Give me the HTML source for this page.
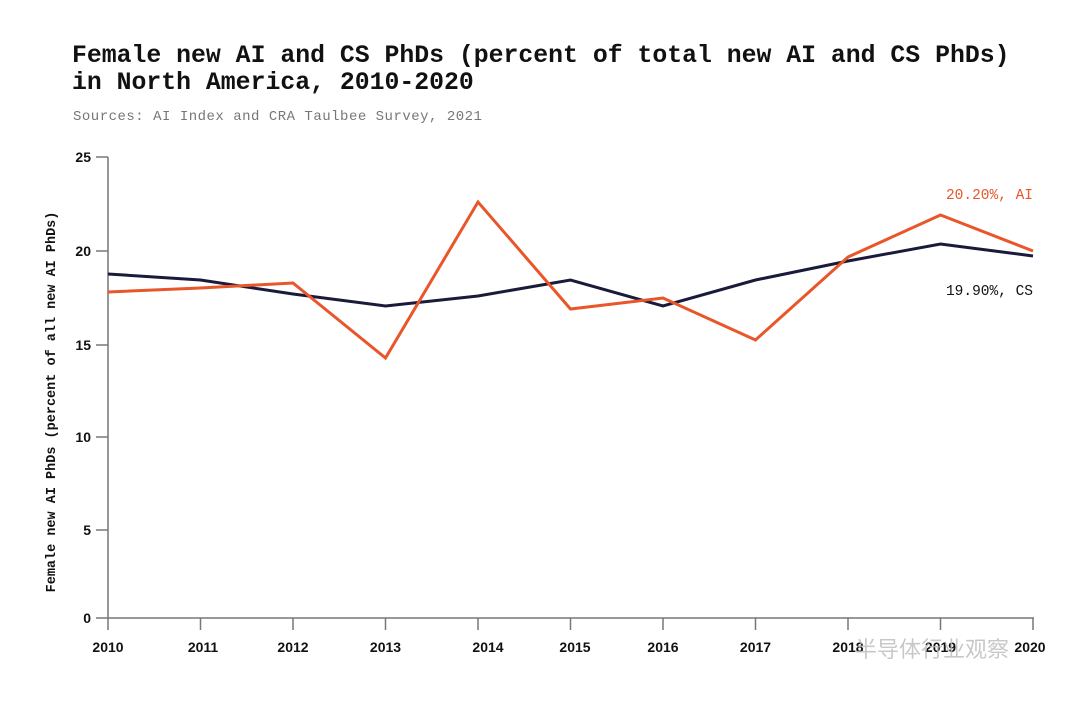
<!DOCTYPE html>
<html><head><meta charset="utf-8"><style>
body{margin:0;background:#fff;width:1080px;height:700px;overflow:hidden}
</style></head><body>
<svg width="1080" height="700" xmlns="http://www.w3.org/2000/svg">
<text x="72" y="62" font-family="Liberation Mono, monospace" font-weight="bold" font-size="24.8" fill="#111">Female new AI and CS PhDs (percent of total new AI and CS PhDs)</text>
<text x="72" y="89" font-family="Liberation Mono, monospace" font-weight="bold" font-size="24.8" fill="#111">in North America, 2010-2020</text>
<text x="73" y="120" font-family="Liberation Mono, monospace" font-size="14" letter-spacing="0.5" fill="#777">Sources: AI Index and CRA Taulbee Survey, 2021</text>
<g stroke="#777" stroke-width="1.5" fill="none">
<line x1="108" y1="157" x2="108" y2="618"/>
<line x1="108" y1="618" x2="1034" y2="618"/>
<line x1="96" y1="157" x2="108" y2="157"/><line x1="96" y1="251" x2="108" y2="251"/><line x1="96" y1="345" x2="108" y2="345"/><line x1="96" y1="437" x2="108" y2="437"/><line x1="96" y1="530" x2="108" y2="530"/><line x1="96" y1="618" x2="108" y2="618"/>
<line x1="108" y1="618" x2="108" y2="630"/><line x1="200.5" y1="618" x2="200.5" y2="630"/><line x1="293" y1="618" x2="293" y2="630"/><line x1="385.5" y1="618" x2="385.5" y2="630"/><line x1="478" y1="618" x2="478" y2="630"/><line x1="570.5" y1="618" x2="570.5" y2="630"/><line x1="663" y1="618" x2="663" y2="630"/><line x1="755.5" y1="618" x2="755.5" y2="630"/><line x1="848" y1="618" x2="848" y2="630"/><line x1="940.5" y1="618" x2="940.5" y2="630"/><line x1="1033" y1="618" x2="1033" y2="630"/>
</g>
<g font-family="Liberation Sans, sans-serif" font-weight="bold" font-size="14" fill="#111" text-anchor="end">
<text x="91" y="162">25</text><text x="91" y="256">20</text><text x="91" y="350">15</text><text x="91" y="442">10</text><text x="91" y="535">5</text><text x="91" y="623">0</text>
</g>
<g font-family="Liberation Sans, sans-serif" font-weight="bold" font-size="14" fill="#111" text-anchor="middle">
<text x="108" y="652">2010</text><text x="203" y="652">2011</text><text x="293" y="652">2012</text><text x="385.5" y="652">2013</text><text x="488" y="652">2014</text><text x="575" y="652">2015</text><text x="663" y="652">2016</text><text x="755.5" y="652">2017</text><text x="848" y="652">2018</text><text x="940.5" y="652">2019</text><text x="1030" y="652">2020</text>
</g>
<text transform="translate(55,402) rotate(-90)" font-family="Liberation Mono, monospace" font-size="13.5" fill="#111" text-anchor="middle" font-weight="bold">Female new AI PhDs (percent of all new AI PhDs)</text>
<polyline fill="none" stroke="#1a1a3a" stroke-width="3" points="108,274 200.5,280 293,294 385.5,306 478,296 570.5,280 663,306 755.5,280 848,261 940.5,244 1033,256"/>
<polyline fill="none" stroke="#e8562a" stroke-width="3" points="108,292 200.5,288 293,283 385.5,358 478,202 570.5,309 663,298 755.5,340 848,257 940.5,215 1033,251"/>
<text x="1033" y="199" font-family="Liberation Mono, monospace" font-size="14.5" fill="#e8562a" text-anchor="end">20.20%, AI</text>
<text x="1033" y="295" font-family="Liberation Mono, monospace" font-size="14.5" fill="#111" text-anchor="end">19.90%, CS</text>
<text x="855" y="657" font-family="Liberation Sans, Noto Sans CJK SC, sans-serif" font-size="22" fill="#bbb" opacity="0.8">半导体行业观察</text>
</svg>
</body></html>
